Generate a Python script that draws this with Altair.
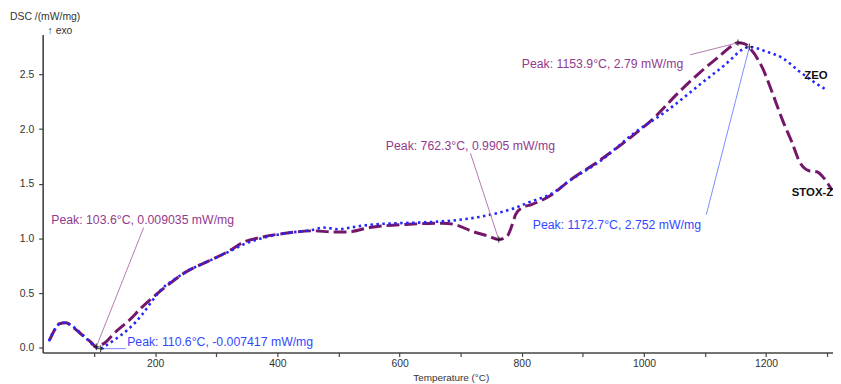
import altair as alt
import pandas as pd

# ---- data ----
stox_T = [27, 35, 43, 54, 65, 81, 95, 103.6, 116, 135, 157, 178, 200, 222, 249, 286, 319, 346, 373,
          416, 459, 490, 515, 551, 616, 670, 692, 719, 746, 762.3, 776, 784, 790, 800, 816, 849, 876,
          929, 984, 1016, 1054, 1092, 1124, 1145, 1153.9, 1165, 1175, 1194, 1211, 1227, 1243, 1254,
          1270, 1283, 1295, 1308]
stox_v = [0.07, 0.16, 0.22, 0.23, 0.19, 0.114, 0.05, 0.009, 0.04, 0.145, 0.25, 0.37, 0.48, 0.58, 0.69,
          0.79, 0.88, 0.97, 1.01, 1.05, 1.07, 1.06, 1.06, 1.10, 1.13, 1.14, 1.125, 1.065, 1.02, 0.9905,
          1.02, 1.12, 1.22, 1.28, 1.31, 1.40, 1.52, 1.72, 1.95, 2.10, 2.32, 2.52, 2.67, 2.765, 2.79,
          2.78, 2.73, 2.56, 2.32, 2.08, 1.87, 1.71, 1.62, 1.61, 1.55, 1.44]

zeo_T = [26, 33, 41, 50, 60, 75, 90, 100, 110.6, 119, 135, 157, 178, 195, 211, 230, 249, 286, 319,
         346, 373, 416, 459, 475, 500, 530, 560, 600, 650, 697, 751, 784, 816, 849, 876, 929, 983,
         1038, 1092, 1135, 1162, 1172.7, 1200, 1227, 1254, 1276, 1300]
zeo_v = [0.06, 0.145, 0.21, 0.23, 0.215, 0.15, 0.07, 0.015, -0.0074, 0.02, 0.08, 0.175, 0.30, 0.43,
         0.54, 0.62, 0.69, 0.79, 0.875, 0.95, 1.0, 1.05, 1.08, 1.10, 1.085, 1.11, 1.13, 1.14, 1.15,
         1.17, 1.22, 1.27, 1.34, 1.41, 1.52, 1.71, 1.96, 2.17, 2.41, 2.60, 2.73, 2.752, 2.71, 2.65,
         2.53, 2.44, 2.355]

peak_T = [103.6, 762.3, 1153.9, 110.6, 1172.7]
peak_v = [0.009035, 0.9905, 2.79, -0.007417, 2.752]
peak_series = ["STOX-Z", "STOX-Z", "STOX-Z", "ZEO", "ZEO"]
peak_text = ["Peak: 103.6°C, 0.009035 mW/mg",
             "Peak: 762.3°C, 0.9905 mW/mg",
             "Peak: 1153.9°C, 2.79 mW/mg",
             "Peak: 110.6°C, -0.007417 mW/mg",
             "Peak: 1172.7°C, 2.752 mW/mg"]
label_T = [29.8, 577.5, 800, 154, 818]
label_v = [1.165, 1.85, 2.596, 0.054, 1.126]
leader_T = [181, 716, 1075.6, 152, 1102]
leader_v = [1.099, 1.78, 2.68, -0.0074, 1.217]

series_names = ["ZEO", "STOX-Z"]
series_T = [1262.5, 1242]
series_v = [2.485, 1.413]

y_title_lines = ["DSC /(mW/mg)", "↑ exo"]

x_ticks = list(range(100, 1301, 100))
y_ticks = [0.0, 0.5, 1.0, 1.5, 2.0, 2.5]

PURPLE = "#74166a"
PURPLE_TXT = "#923a8e"
PURPLE_LEAD = "#b47ab0"
BLUE = "#2525ff"
BLUE_TXT = "#3447ff"
BLUE_LEAD = "#7c8cff"
FONT = "Liberation Sans"

stox_df = pd.DataFrame({"T": stox_T, "v": stox_v})
zeo_df = pd.DataFrame({"T": zeo_T, "v": zeo_v})
peaks_df = pd.DataFrame({
    "pT": peak_T, "pv": peak_v, "series": peak_series, "text": peak_text,
    "T": label_T, "v": label_v, "lT": leader_T, "lv": leader_v,
})
names_df = pd.DataFrame({"name": series_names, "T": series_T, "v": series_v})

xscale = alt.Scale(domain=[15.73, 1309.5], nice=False, zero=False)
yscale = alt.Scale(domain=[-0.0426, 2.865], nice=False, zero=False)

xaxis = alt.Axis(
    values=x_ticks, labelExpr="datum.value % 200 == 0 ? datum.value : ''",
    title="Temperature (°C)", titleX=412, titleY=25, titleAlign="center",
    titleBaseline="middle", titleFontSize=10, titleFontWeight="normal",
    labelPadding=2, tickSize=4,
)
yaxis = alt.Axis(values=y_ticks, format=".1f", title=None, labelPadding=5, tickSize=4)

X = alt.X("T:Q", scale=xscale, axis=xaxis)
Y = alt.Y("v:Q", scale=yscale, axis=yaxis)

stox_line = alt.Chart(stox_df).mark_line(
    color=PURPLE, strokeWidth=3, strokeDash=[13, 5], interpolate="monotone"
).encode(x=X, y=Y, order="T:Q")

zeo_line = alt.Chart(zeo_df).mark_line(
    color=BLUE, strokeWidth=2.6, strokeDash=[2.5, 3.5], interpolate="monotone"
).encode(x=X, y=Y, order="T:Q")

color_scale = alt.Scale(domain=["STOX-Z", "ZEO"], range=[PURPLE_LEAD, BLUE_LEAD])
text_scale = alt.Scale(domain=["STOX-Z", "ZEO"], range=[PURPLE_TXT, BLUE_TXT])

leaders = alt.Chart(peaks_df).mark_rule(strokeWidth=1).encode(
    x=alt.X("pT:Q", scale=xscale, axis=xaxis),
    y=alt.Y("pv:Q", scale=yscale, axis=yaxis),
    x2="lT:Q", y2="lv:Q",
    color=alt.Color("series:N", scale=color_scale, legend=None),
)

markers = alt.Chart(peaks_df).mark_point(
    shape="M-1,0L1,0M0,-1L0,1", filled=False, size=45, strokeWidth=1.2, color="#111111"
).encode(
    x=alt.X("pT:Q", scale=xscale, axis=xaxis),
    y=alt.Y("pv:Q", scale=yscale, axis=yaxis),
)

labels = alt.Chart(peaks_df).mark_text(
    align="left", baseline="middle", fontSize=12.4, font=FONT
).encode(
    x=X, y=Y, text="text:N",
    color=alt.Color("series:N", scale=text_scale, legend=None),
)

names = alt.Chart(names_df).mark_text(
    align="left", baseline="middle", fontSize=11.5, fontWeight="bold", font=FONT, color="#111111"
).encode(x=X, y=Y, text="name:N")

ytitle1 = alt.Chart(pd.DataFrame({"t": [y_title_lines[0]]})).mark_text(
    align="left", baseline="middle", fontSize=10.5, font=FONT, color="#333333"
).encode(x=alt.value(-33), y=alt.value(-18), text="t:N")

ytitle2 = alt.Chart(pd.DataFrame({"t": [y_title_lines[1]]})).mark_text(
    align="right", baseline="middle", fontSize=10.5, font=FONT, color="#333333"
).encode(x=alt.value(30), y=alt.value(-4), text="t:N")

chart = alt.layer(stox_line, zeo_line, leaders, markers, labels, names, ytitle1, ytitle2).resolve_scale(
    color="independent"
).properties(
    width=798, height=321,
    autosize=alt.AutoSizeParams(type="none"),
    padding={"left": 35, "top": 25, "right": 0, "bottom": 30},
).configure_view(stroke=None).configure_axis(
    grid=False, domainColor="#444444", domainWidth=1.6, tickColor="#444444", tickWidth=1.2,
    labelColor="#333333", labelFont=FONT, labelFontSize=10.5, titleColor="#333333", titleFont=FONT,
)

chart.save("out.html", embed_options={"renderer": "svg", "actions": False})
